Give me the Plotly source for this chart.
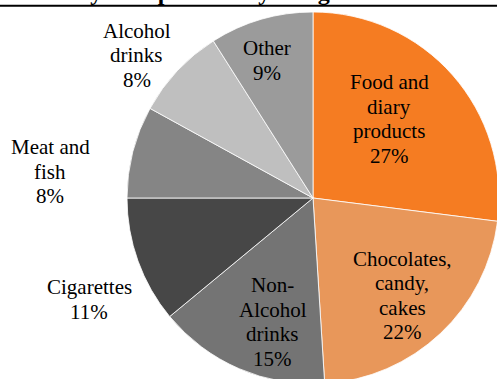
import math
import plotly.graph_objects as go

# Inventory share by category (percent), clockwise from 12 o'clock
categories = [
    "Food and\ndiary\nproducts",
    "Chocolates,\ncandy,\ncakes",
    "Non-\nAlcohol\ndrinks",
    "Cigarettes",
    "Meat and\nfish",
    "Alcohol\ndrinks",
    "Other",
]
shares = [27, 22, 15, 11, 8, 8, 9]
slice_colors = ["#F57C22", "#E8975A", "#747474", "#474747", "#858585", "#BFBFBF", "#9B9B9B"]

title_text = "Inventory Composition by categories as of Dec 2019"

# Label placement: distance from centre (fraction of radius) and angular nudge (deg)
label_radius = [0.59, 0.71, 0.70, 1.32, 1.42, 1.22, 0.78]
label_nudge = [-4.7, 0.7, -5.4, -4.6, -8.7, -4.2, -2.4]

# Canvas and pie geometry (px); the page window shows the top-left 497x379
W, H = 520, 400
CX, CY, R = 313, 198, 186
FONT = "Liberation Serif, Times New Roman, serif"
FS = 21
LINE_H = 24.5

fig = go.Figure(
    go.Pie(
        labels=[c.replace("\n", " ") for c in categories],
        values=shares,
        sort=False,
        direction="clockwise",
        rotation=0,
        textinfo="none",
        marker=dict(colors=slice_colors, line=dict(color="white", width=0.8)),
        domain=dict(
            x=[(CX - R) / W, (CX + R) / W],
            y=[1 - (CY + R) / H, 1 - (CY - R) / H],
        ),
        showlegend=False,
    )
)

annotations = []
total = sum(shares)
cum = 0
for cat, v, rf, nudge in zip(categories, shares, label_radius, label_nudge):
    mid = (cum + v / 2) / total * 360 + nudge
    cum += v
    a = math.radians(mid)
    lx = CX + rf * R * math.sin(a)
    ly = CY - rf * R * math.cos(a)
    lines = cat.split("\n") + [f"{v}%"]
    n = len(lines)
    for i, t in enumerate(lines):
        y = ly + (i - (n - 1) / 2) * LINE_H
        annotations.append(dict(
            x=lx / W, y=1 - y / H, xref="paper", yref="paper",
            text=t, showarrow=False, xanchor="center", yanchor="middle",
            font=dict(family=FONT, size=FS, color="#000000"),
        ))

# Title sits at the very top edge of the canvas
annotations.append(dict(
    x=0, y=1 - 7 / H, xref="paper", yref="paper", xshift=-1,
    text=f"<b>{title_text}</b>", showarrow=False,
    xanchor="left", yanchor="bottom",
    font=dict(family=FONT, size=24, color="#000000"),
))

fig.update_layout(
    width=W, height=H,
    margin=dict(l=0, r=0, t=0, b=0),
    paper_bgcolor="white",
    plot_bgcolor="white",
    annotations=annotations,
    shapes=[dict(type="line", xref="paper", yref="paper",
                 x0=0, x1=1, y0=1 - 5.8 / H, y1=1 - 5.8 / H,
                 line=dict(color="black", width=2))],
)

fig.write_html(
    "out.html",
    config={"displayModeBar": False},
    post_script="document.documentElement.style.overflow='hidden';document.body.style.overflow='hidden';",
)
